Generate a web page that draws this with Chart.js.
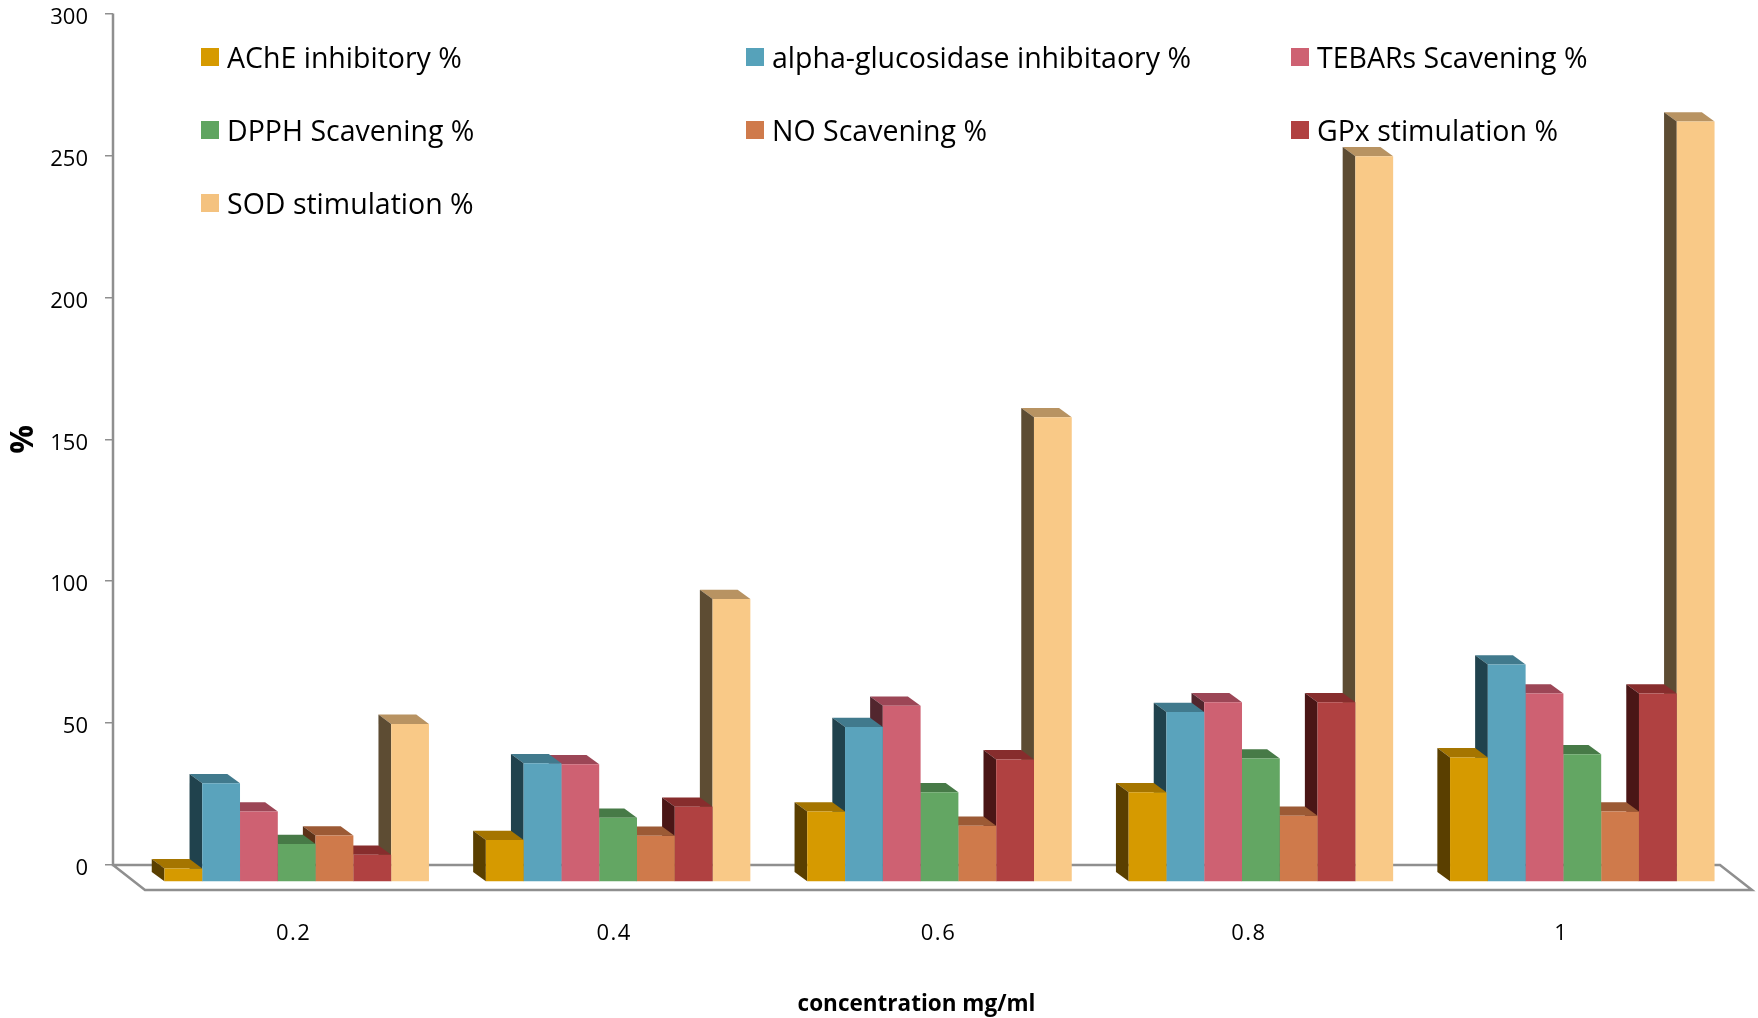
<!DOCTYPE html>
<html>
<head>
<meta charset="utf-8">
<title>Chart</title>
<script src="https://cdn.jsdelivr.net/npm/chart.js@4/dist/chart.umd.min.js"></script>
<style>
    html, body { margin: 0; padding: 0; background: #fff; }
    canvas { display: block; }
</style>
</head>
<body>
<canvas id="activityChart" width="1758" height="1018"></canvas>
<script>
// ===== DATA =====
const concentrations = ['0.2', '0.4', '0.6', '0.8', '1'];
const seriesNames = [
    'AChE inhibitory %', 'alpha-glucosidase inhibitaory %', 'TEBARs Scavening %',
    'DPPH Scavening %', 'NO Scavening %', 'GPx stimulation %', 'SOD stimulation %'
];
const ache = [4.8, 14.8, 24.8, 31.6, 43.9];
const glucosidase = [34.8, 41.8, 54.6, 59.9, 76.6];
const tebars = [24.8, 41.5, 62.1, 63.3, 66.4];
const dpph = [13.4, 22.6, 31.6, 43.5, 45];
const no = [16.4, 16.3, 19.8, 23.3, 24.8];
const gpx = [9.6, 26.5, 43.2, 63.3, 66.4];
const sod = [55.7, 99.7, 163.7, 255.7, 267.9];
const seriesValues = [ache, glucosidase, tebars, dpph, no, gpx, sod];

const yTicks = [0, 50, 100, 150, 200, 250, 300];

const frontColors = ['#D69A00', '#5AA3BC', '#CE6172', '#63A663', '#CF7A4B', '#B04141', '#F9C987'];
const topColors = ['#A57500', '#417A8D', '#9C4656', '#477A47', '#9C5A35', '#872D2D', '#B89362'];
const sideColors = ['#5A3F00', '#20424D', '#52262E', '#274427', '#5C3218', '#4A1616', '#5D4C33'];
const legendColors = ['#D69A00', '#56A2BA', '#CE6172', '#5FA560', '#CF7A4B', '#B04141', '#F4C27F'];

const axisGrey = '#8F8F8F';
const labelFont = 'Open Sans';

// Bars stand this far in front of the back wall
const barShiftX = 23;
const barShiftY = 17;
// Depth of one bar and of the floor
const barDepthX = 12.7;
const barDepthY = 9.3;
const floorDepthX = 32;
const floorDepthY = 25;
// The category labels do not sit evenly under their groups in the original
const tickLabelShift = [20, 19, 22, 11, 2];

// ===== 3D PLUGIN =====
const box3d = {
    id: 'box3d',
    beforeDatasetsDraw(chart) {
        const ctx = chart.ctx;
        const area = chart.chartArea;
        const zeroY = chart.scales.y.getPixelForValue(0);
        const topY = chart.scales.y.getPixelForValue(300);

        ctx.save();
        ctx.strokeStyle = axisGrey;
        ctx.lineWidth = 2.5;
        ctx.lineJoin = 'miter';
        ctx.beginPath();
        ctx.moveTo(area.left, topY);
        ctx.lineTo(area.left, zeroY);
        ctx.lineTo(area.right, zeroY);
        ctx.lineTo(area.right + floorDepthX, zeroY + floorDepthY);
        ctx.lineTo(area.left + floorDepthX, zeroY + floorDepthY);
        ctx.lineTo(area.left, zeroY);
        ctx.stroke();
        ctx.restore();

        // Everything drawn until afterDatasetsDraw sits on the floor, not on the wall
        ctx.save();
        ctx.translate(barShiftX, barShiftY);
    },
    beforeDatasetDraw(chart, args) {
        const ctx = chart.ctx;
        const i = args.index;
        args.meta.data.forEach(bar => {
            const left = bar.x - bar.width / 2;
            const right = bar.x + bar.width / 2;
            const top = bar.y;
            const bottom = bar.base;

            // top face
            ctx.fillStyle = topColors[i];
            ctx.beginPath();
            ctx.moveTo(left, top);
            ctx.lineTo(right, top);
            ctx.lineTo(right - barDepthX, top - barDepthY);
            ctx.lineTo(left - barDepthX, top - barDepthY);
            ctx.closePath();
            ctx.fill();

            // left face
            ctx.fillStyle = sideColors[i];
            ctx.beginPath();
            ctx.moveTo(left, top);
            ctx.lineTo(left - barDepthX, top - barDepthY);
            ctx.lineTo(left - barDepthX, bottom - barDepthY);
            ctx.lineTo(left, bottom);
            ctx.closePath();
            ctx.fill();
        });
    },
    afterDatasetsDraw(chart) {
        chart.ctx.restore();
    }
};

// ===== LEGEND AND CATEGORY LABELS =====
const chartText = {
    id: 'chartText',
    afterDraw(chart) {
        const ctx = chart.ctx;
        const xScale = chart.scales.x;
        ctx.save();
        ctx.font = '28.5px "' + labelFont + '"';
        ctx.textBaseline = 'middle';
        chart.data.datasets.forEach((ds, i) => {
            const x = 201 + (i % 3) * 545;
            const y = 48 + Math.floor(i / 3) * 73;
            ctx.fillStyle = legendColors[i];
            ctx.fillRect(x, y, 18, 18);
            ctx.fillStyle = '#000';
            ctx.fillText(ds.label, x + 26, y + 11.5);
        });

        ctx.font = '22px "' + labelFont + '"';
        ctx.letterSpacing = '1.5px';
        ctx.textAlign = 'center';
        chart.data.labels.forEach((label, i) => {
            ctx.fillText(label, xScale.getPixelForTick(i) + tickLabelShift[i], 934);
        });
        ctx.restore();
    }
};

// ===== CHART =====
new Chart(document.getElementById('activityChart').getContext('2d'), {
    type: 'bar',
    data: {
        labels: concentrations,
        datasets: seriesNames.map((name, i) => ({
            label: name,
            data: seriesValues[i],
            backgroundColor: frontColors[i],
            borderWidth: 0,
            clip: false,
            categoryPercentage: 0.823,
            barPercentage: 1
        }))
    },
    options: {
        responsive: false,
        animation: false,
        layout: { autoPadding: false, padding: { top: 13.5, right: 38, bottom: 0, left: 0 } },
        plugins: {
            legend: { display: false },
            title: { display: false },
            tooltip: { enabled: false }
        },
        scales: {
            x: {
                afterFit(scale) { scale.height = 153; },
                grid: { display: false },
                border: { display: false },
                ticks: { display: false },
                title: {
                    display: true,
                    text: 'concentration mg/ml',
                    color: '#000',
                    font: { family: labelFont, size: 22.5, weight: 'bold' },
                    padding: { top: 0, bottom: 0 }
                }
            },
            y: {
                min: 0,
                max: 300,
                afterFit(scale) {
                    scale.width = 113;
                    // top tick sits right at the canvas edge, no room kept for its label
                    scale.paddingTop = 0;
                    scale.paddingBottom = 0;
                },
                afterBuildTicks(scale) { scale.ticks = yTicks.map(v => ({ value: v })); },
                grid: { drawOnChartArea: false, drawTicks: true, tickLength: 8, color: axisGrey, lineWidth: 1.5 },
                border: { display: false },
                ticks: {
                    padding: 17,
                    labelOffset: 4,
                    color: '#000',
                    font: { family: labelFont, size: 22 }
                },
                title: {
                    display: true,
                    text: '%',
                    color: '#000',
                    font: { family: labelFont, size: 32, weight: 'bold' },
                    padding: { top: 5, bottom: 0 }
                }
            }
        }
    },
    plugins: [box3d, chartText]
});
</script>
</body>
</html>
